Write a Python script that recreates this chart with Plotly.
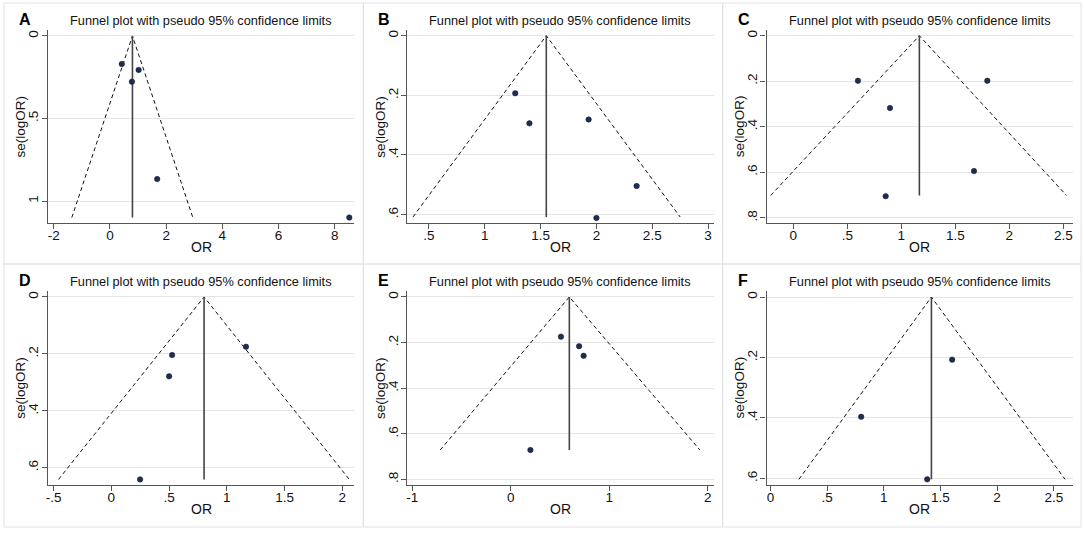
import plotly.graph_objects as go

W, H = 1084, 533

# ---------------- data ----------------
panel_labels = ["A", "B", "C", "D", "E", "F"]
title_text = "Funnel plot with pseudo 95% confidence limits"

A_or = [0.42, 1.02, 0.78, 1.68, 8.52]
A_se = [0.170, 0.206, 0.277, 0.867, 1.100]
B_or = [1.273, 1.40, 1.93, 2.36, 2.00]
B_se = [0.193, 0.294, 0.281, 0.504, 0.611]
C_or = [0.598, 1.796, 0.895, 1.673, 0.855]
C_se = [0.198, 0.198, 0.318, 0.595, 0.705]
D_or = [0.526, 0.500, 1.166, 0.249]
D_se = [0.204, 0.279, 0.175, 0.641]
E_or = [0.51, 0.694, 0.74, 0.20]
E_se = [0.174, 0.216, 0.258, 0.671]
F_or = [1.603, 0.80, 1.383]
F_se = [0.207, 0.396, 0.603]

# pooled estimate, funnel bottom se, lower / upper pseudo 95% limits at bottom
A_funnel = [0.80, 1.10, -1.36, 2.95]
B_funnel = [1.551, 0.608, 0.357, 2.75]
C_funnel = [1.167, 0.702, -0.21, 2.53]
D_funnel = [0.803, 0.641, -0.457, 2.06]
E_funnel = [0.595, 0.671, -0.716, 1.92]
F_funnel = [1.42, 0.603, 0.25, 2.60]

A_xt = [-2, 0, 2, 4, 6, 8]; A_xl = ["-2", "0", "2", "4", "6", "8"]
A_yt = [0, 0.5, 1];          A_yl = ["0", ".5", "1"]
B_xt = [0.5, 1, 1.5, 2, 2.5, 3]; B_xl = [".5", "1", "1.5", "2", "2.5", "3"]
B_yt = [0, 0.2, 0.4, 0.6];   B_yl = ["0", ".2", ".4", ".6"]
C_xt = [0, 0.5, 1, 1.5, 2, 2.5]; C_xl = ["0", ".5", "1", "1.5", "2", "2.5"]
C_yt = [0, 0.2, 0.4, 0.6, 0.8]; C_yl = ["0", ".2", ".4", ".6", ".8"]
D_xt = [-0.5, 0, 0.5, 1, 1.5, 2]; D_xl = ["-.5", "0", ".5", "1", "1.5", "2"]
D_yt = [0, 0.2, 0.4, 0.6];   D_yl = ["0", ".2", ".4", ".6"]
E_xt = [-1, 0, 1, 2];        E_xl = ["-1", "0", "1", "2"]
E_yt = [0, 0.2, 0.4, 0.6, 0.8]; E_yl = ["0", ".2", ".4", ".6", ".8"]
F_xt = [0, 0.5, 1, 1.5, 2, 2.5]; F_xl = ["0", ".5", "1", "1.5", "2", "2.5"]
F_yt = [0, 0.2, 0.4, 0.6];   F_yl = ["0", ".2", ".4", ".6"]

# axis ranges
A_xr = [-2.21, 8.70];  A_yr = [1.133, -0.036]
B_xr = [0.306, 3.05];  B_yr = [0.628, -0.019]
C_xr = [-0.248, 2.59]; C_yr = [0.823, -0.025]
D_xr = [-0.549, 2.104]; D_yr = [0.659, -0.021]
E_xr = [-1.05, 2.06];  E_yr = [0.822, -0.026]
F_xr = [-0.035, 2.67]; F_yr = [0.620, -0.020]

panels = [
    (A_or, A_se, A_funnel, A_xt, A_xl, A_yt, A_yl, A_xr, A_yr),
    (B_or, B_se, B_funnel, B_xt, B_xl, B_yt, B_yl, B_xr, B_yr),
    (C_or, C_se, C_funnel, C_xt, C_xl, C_yt, C_yl, C_xr, C_yr),
    (D_or, D_se, D_funnel, D_xt, D_xl, D_yt, D_yl, D_xr, D_yr),
    (E_or, E_se, E_funnel, E_xt, E_xl, E_yt, E_yl, E_xr, E_yr),
    (F_or, F_se, F_funnel, F_xt, F_xl, F_yt, F_yl, F_xr, F_yr),
]

# ---------------- layout geometry (pixels) ----------------
col_x0 = [2, 362, 722]
col_x1 = [362, 722, 1081]
row_y0 = [3, 264]
row_y1 = [264, 527]
plot_left = 44      # from panel border
plot_right = 351
row_top = [30, 291]
row_bot = [223, 484.5]
title_y = [20.5, 281.5]
ortitle_y = [247, 509]

FONT = "Liberation Sans, Arial, Helvetica, sans-serif"
AX = "#555555"

def px(x):
    return x / W

def py(y):
    return 1 - y / H

fig = go.Figure()
annotations = []
shapes = []

for i, (xs, ys, fun, xt, xl, yt, yl, xr, yr) in enumerate(panels):
    r, c = divmod(i, 3)
    n = i + 1
    xa = "x" if n == 1 else f"x{n}"
    ya = "y" if n == 1 else f"y{n}"
    x0 = col_x0[c] + plot_left
    x1 = col_x0[c] + plot_right
    y0, y1 = row_top[r], row_bot[r]

    center, bot, lo, hi = fun
    # funnel (dashed)
    fig.add_trace(go.Scatter(x=[lo, center, hi], y=[bot, 0, bot], mode="lines",
                             line=dict(color="#111111", width=1, dash="4px,3px"),
                             xaxis=xa, yaxis=ya, showlegend=False, hoverinfo="skip"))
    # pooled estimate (solid vertical)
    fig.add_trace(go.Scatter(x=[center, center], y=[0, bot], mode="lines",
                             line=dict(color="#444444", width=1.6),
                             xaxis=xa, yaxis=ya, showlegend=False, hoverinfo="skip"))
    # studies
    fig.add_trace(go.Scatter(x=xs, y=ys, mode="markers",
                             marker=dict(color="#1d2e4e", size=5.5,
                                         line=dict(color="#0f1a30", width=0.5)),
                             xaxis=xa, yaxis=ya, showlegend=False))

    xkey = "xaxis" if n == 1 else f"xaxis{n}"
    ykey = "yaxis" if n == 1 else f"yaxis{n}"
    fig.layout[xkey] = dict(
        domain=[px(x0), px(x1)], anchor=ya, range=xr,
        tickmode="array", tickvals=xt, ticktext=xl,
        showgrid=False, zeroline=False,
        showline=True, linecolor=AX, linewidth=1.2,
        ticks="outside", ticklen=5, tickcolor=AX, tickwidth=1,
        ticklabelstandoff=-5,
        tickfont=dict(family=FONT, size=13.5, color="#111111"),
    )
    fig.layout[ykey] = dict(
        domain=[py(y1), py(y0)], anchor=xa, range=yr,
        tickmode="array", tickvals=yt, ticktext=yl, tickangle=-90,
        showgrid=True, gridcolor="#e4e4e4", gridwidth=1, zeroline=False,
        showline=True, linecolor=AX, linewidth=1.2,
        ticks="outside", ticklen=5, tickcolor=AX, tickwidth=1,
        ticklabelstandoff=-2,
        tickfont=dict(family=FONT, size=13.5, color="#111111"),
    )

    cx = (x0 + x1) / 2
    annotations.append(dict(text=title_text, x=px(cx), y=py(title_y[r]), xref="paper", yref="paper",
                            showarrow=False, xanchor="center", yanchor="middle",
                            font=dict(family=FONT, size=12.75, color="#111111")))
    annotations.append(dict(text="<b>" + panel_labels[i] + "</b>", x=px(col_x0[c] + 13), y=py(title_y[r] - 1),
                            xref="paper", yref="paper", showarrow=False, xanchor="left", yanchor="middle",
                            font=dict(family=FONT, size=16, color="#000000")))
    annotations.append(dict(text="OR", x=px(cx), y=py(ortitle_y[r]), xref="paper", yref="paper",
                            showarrow=False, xanchor="center", yanchor="middle",
                            font=dict(family=FONT, size=14, color="#111111")))
    annotations.append(dict(text="se(logOR)", x=px(col_x0[c] + 17), y=py((y0 + y1) / 2),
                            xref="paper", yref="paper", showarrow=False, textangle=-90,
                            xanchor="center", yanchor="middle",
                            font=dict(family=FONT, size=13.5, color="#111111")))
    shapes.append(dict(type="rect", xref="paper", yref="paper",
                       x0=px(col_x0[c]), x1=px(col_x1[c]), y0=py(row_y1[r]), y1=py(row_y0[r]),
                       line=dict(color="#e2e2e2", width=1), fillcolor="rgba(0,0,0,0)", layer="below"))

fig.update_layout(width=W, height=H, margin=dict(l=0, r=0, t=0, b=0),
                  paper_bgcolor="white", plot_bgcolor="white",
                  annotations=annotations, shapes=shapes, showlegend=False)

fig.write_html("out.html", config={"displayModeBar": False},
               post_script="document.body.style.margin='0px';document.body.style.overflow='hidden';")
